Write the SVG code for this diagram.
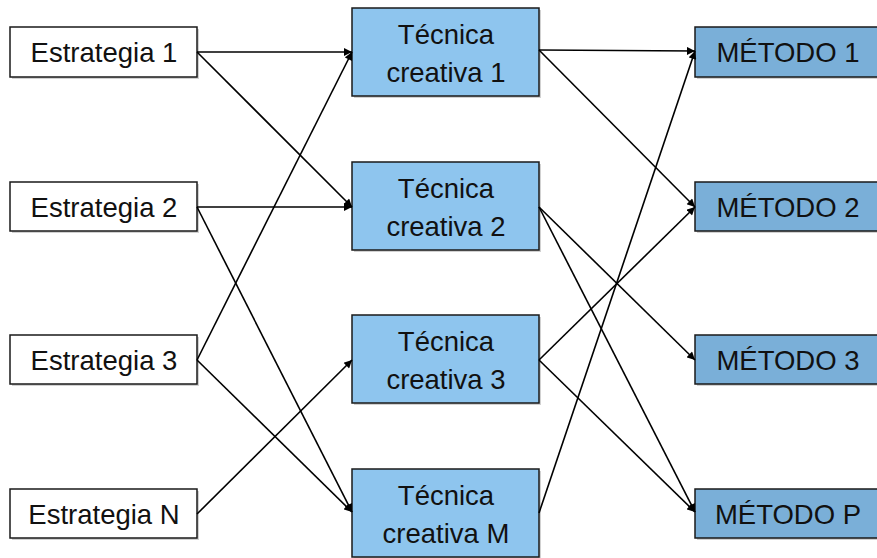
<svg xmlns="http://www.w3.org/2000/svg" width="877" height="558" viewBox="0 0 877 558">
<style>
.box{stroke:#1a1a1a;stroke-width:1.5}
.e{fill:#ffffff}
.t{fill:#8EC5EE}
.m{fill:#7AAFD8}
.sh{fill:#000;opacity:0.18}
text{font-family:"Liberation Sans",Arial,sans-serif;font-size:27.5px;fill:#111;text-anchor:middle}
.c line{stroke:#000;stroke-width:1.6;marker-end:url(#ah)}
</style>
<defs>
<marker id="ah" viewBox="0 0 10 10" refX="10" refY="5" markerWidth="9" markerHeight="8" markerUnits="userSpaceOnUse" orient="auto">
<path d="M0,0 L10,5 L0,10 z" fill="#000"/>
</marker>
</defs>
<rect width="877" height="558" fill="#fff"/>
<g id="e1"><rect class="sh" x="12" y="29" width="187" height="50"/><rect class="box e" x="10" y="27" width="187" height="50"/><text x="104" y="62">Estrategia 1</text></g>
<g id="e2"><rect class="sh" x="12" y="184" width="187" height="49"/><rect class="box e" x="10" y="182" width="187" height="49"/><text x="104" y="217">Estrategia 2</text></g>
<g id="e3"><rect class="sh" x="12" y="337" width="187" height="49"/><rect class="box e" x="10" y="335" width="187" height="49"/><text x="104" y="370">Estrategia 3</text></g>
<g id="en"><rect class="sh" x="12" y="491" width="187" height="49"/><rect class="box e" x="10" y="489" width="187" height="49"/><text x="104" y="524">Estrategia N</text></g>
<g id="t1"><rect class="sh" x="354" y="10" width="187" height="88"/><rect class="box t" x="352" y="8" width="187" height="88"/><text x="446" y="44">Técnica</text><text x="446" y="82">creativa 1</text></g>
<g id="t2"><rect class="sh" x="354" y="164" width="187" height="88"/><rect class="box t" x="352" y="162" width="187" height="88"/><text x="446" y="198">Técnica</text><text x="446" y="236">creativa 2</text></g>
<g id="t3"><rect class="sh" x="354" y="317" width="187" height="88"/><rect class="box t" x="352" y="315" width="187" height="88"/><text x="446" y="351">Técnica</text><text x="446" y="389">creativa 3</text></g>
<g id="tm"><rect class="sh" x="354" y="471" width="187" height="88"/><rect class="box t" x="352" y="469" width="187" height="88"/><text x="446" y="505">Técnica</text><text x="446" y="543">creativa M</text></g>
<g id="m1"><rect class="sh" x="697" y="29" width="187" height="50"/><rect class="box m" x="695" y="27" width="187" height="50"/><text x="788" y="62">MÉTODO 1</text></g>
<g id="m2"><rect class="sh" x="697" y="184" width="187" height="49"/><rect class="box m" x="695" y="182" width="187" height="49"/><text x="788" y="217">MÉTODO 2</text></g>
<g id="m3"><rect class="sh" x="697" y="337" width="187" height="49"/><rect class="box m" x="695" y="335" width="187" height="49"/><text x="788" y="370">MÉTODO 3</text></g>
<g id="mp"><rect class="sh" x="697" y="491" width="187" height="49"/><rect class="box m" x="695" y="489" width="187" height="49"/><text x="788" y="524">MÉTODO P</text></g>
<g class="c" id="connectors">
<line x1="197" y1="52" x2="352" y2="52"/>
<line x1="197" y1="52" x2="352" y2="207"/>
<line x1="197" y1="207" x2="352" y2="207"/>
<line x1="197" y1="207" x2="352" y2="512"/>
<line x1="197" y1="360" x2="352" y2="52"/>
<line x1="197" y1="360" x2="352" y2="512"/>
<line x1="197" y1="514" x2="352" y2="360"/>
<line x1="539" y1="50" x2="695" y2="51"/>
<line x1="539" y1="50" x2="695" y2="207"/>
<line x1="539" y1="207" x2="695" y2="360"/>
<line x1="539" y1="207" x2="695" y2="512"/>
<line x1="539" y1="360" x2="695" y2="207"/>
<line x1="539" y1="360" x2="695" y2="512"/>
<line x1="539" y1="513" x2="695" y2="51"/>
</g>
</svg>
